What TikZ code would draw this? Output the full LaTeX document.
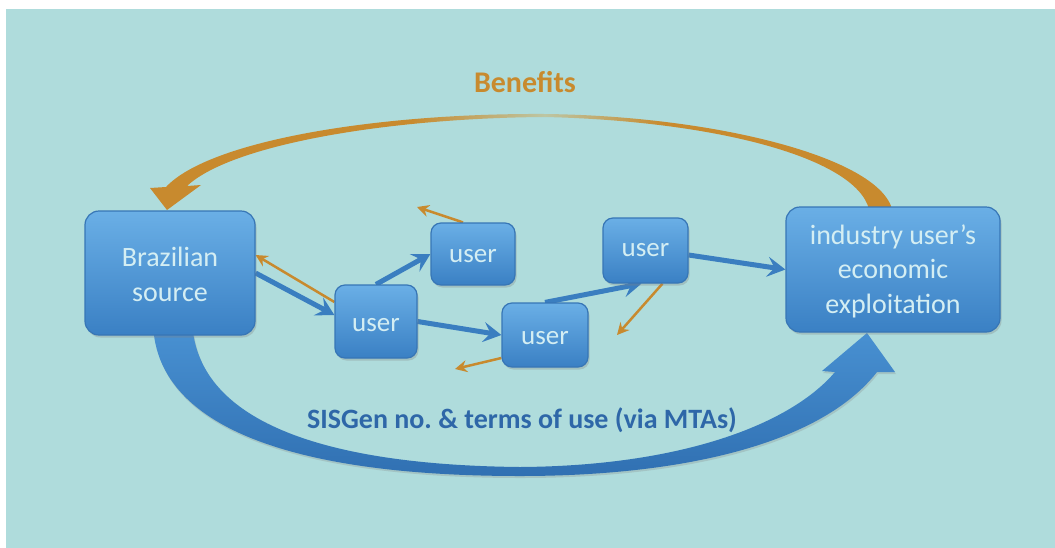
\documentclass[tikz,border=0pt]{standalone}
\usepackage{fontspec}
\setmainfont{Carlito}
\usetikzlibrary{arrows.meta,shadows,backgrounds}
\definecolor{bgteal}{HTML}{AFDCDC}
\definecolor{boxtop}{HTML}{6AAFE6}
\definecolor{boxbot}{HTML}{3A80C4}
\definecolor{boxline}{HTML}{3776B6}
\definecolor{boxtext}{HTML}{D4EEF3}
\definecolor{benc}{HTML}{C88A2E}
\definecolor{benfade}{HTML}{BCC6A4}
\definecolor{arrowblue}{HTML}{3A7EC0}
\definecolor{sistext}{HTML}{2E67A8}
\definecolor{bigtop}{HTML}{4A93D4}
\definecolor{bigbot}{HTML}{3070B2}
\pgfdeclarehorizontalshading{benL}{100bp}{color(0bp)=(benc); color(25bp)=(benc); color(58bp)=(benc); color(75bp)=(benfade); color(100bp)=(benfade)}
\pgfdeclarehorizontalshading{benR}{100bp}{color(0bp)=(benfade); color(25bp)=(benfade); color(42bp)=(benc); color(100bp)=(benc)}
\frenchspacing
\newcommand{\lowertext}[2]{\raisebox{-#1}[\height][\depth]{#2}}
\begin{document}
\begin{tikzpicture}[x=1pt,y=-1pt,
  boxbase/.style={draw=boxline, line width=1.2pt, top color=boxtop, bottom color=boxbot,
    text=boxtext, align=center, inner sep=0pt,
    drop shadow={shadow xshift=1.5pt, shadow yshift=-2.5pt, opacity=0.3}},
  bigbox/.style={boxbase, rounded corners=14pt, font=\fontsize{28}{34.5}\selectfont},
  userbox/.style={boxbase, rounded corners=10pt, font=\fontsize{27}{32}\selectfont},
  barrow/.style={draw=arrowblue, line width=5pt, -{Stealth[length=18pt,width=20pt,inset=7pt]}},
  oarrow/.style={draw=benc, line width=2.5pt, -{Stealth[length=12pt,width=12pt,inset=4pt]}},
]
\useasboundingbox (0,0) rectangle (1055,547);

% nodes
\node[bigbox, minimum width=170pt, minimum height=124pt] (src) at (170,273) {\lowertext{4pt}{\begin{tabular}{@{}c@{}}Brazilian\\source\end{tabular}}};
\node[bigbox, minimum width=214pt, minimum height=125pt] (ind) at (893,269.5) {\lowertext{2.5pt}{\begin{tabular}{@{}c@{}}industry user’s\\economic\\exploitation\end{tabular}}};
\node[userbox, minimum width=82pt, minimum height=73pt] (u1) at (376,321.5) {\lowertext{4pt}{user}};
\node[userbox, minimum width=84pt, minimum height=62pt] (u2) at (473,254) {\lowertext{2pt}{user}};
\node[userbox, minimum width=86pt, minimum height=64pt] (u3) at (545,335) {\lowertext{3pt}{user}};
\node[userbox, minimum width=85pt, minimum height=65pt] (u4) at (645.5,250.5) {user};

\node[font=\fontsize{30}{36}\selectfont\bfseries, text=benc, anchor=base] (ben) at (525,92) {Benefits};
\node[font=\fontsize{28}{34}\selectfont\bfseries, text=sistext, anchor=base] (sis) at (522,428) {SISGen no. \& terms of use (via MTAs)};

\coordinate (o2) at (417,207);
\coordinate (o3) at (455,369);
\coordinate (o4) at (617,335);

\begin{scope}[on background layer]
  \fill[white] (0,0) rectangle (1060,552);
  \fill[bgteal] (6,9) rectangle (1060,552);
  % benefits arrow (left half with head, right half)
  \shade[shading=benL] (545,114) .. controls (380,113) and (210,140) .. (166,187)
     -- (150,188) -- (167,210) -- (201,185) -- (187,186)
     .. controls (232,144) and (390,118) .. (545,117) -- cycle;
  \shade[shading=benR] (545,114) .. controls (720,116) and (890,160) .. (893,215)
     -- (870,215) .. controls (866,160) and (720,121) .. (545,117) -- cycle;
  % SISGen arrow
  \shade[top color=bigtop, bottom color=bigbot,
         drop shadow={shadow xshift=1pt, shadow yshift=-2pt, opacity=0.25}]
     (153,320) .. controls (153,430) and (300,476) .. (520,476)
     .. controls (680,476) and (820,445) .. (877,372)
     -- (895,372) -- (867,333) -- (822,371) -- (835,372)
     .. controls (790,425) and (680,466) .. (520,467)
     .. controls (320,465) and (195,420) .. (192,320) -- cycle;
  % small connectors
  \draw[barrow] (src.east) -- ([yshift=6.5pt]u1.west);
  \draw[oarrow] ([yshift=19.5pt]u1.west) -- ([yshift=18pt]src.east);
  \draw[barrow] (u1.north) -- (u2.west);
  \draw[oarrow] ([xshift=-10pt]u2.north) -- (o2);
  \draw[barrow] (u1.east) -- (u3.west);
  \draw[barrow] (u3.north) -- ([xshift=-4pt]u4.south);
  \draw[oarrow] ([yshift=-23pt]u3.west) -- (o3);
  \draw[oarrow] ([xshift=17pt]u4.south) -- (o4);
  \draw[barrow] ([yshift=-4.5pt]u4.east) -- (ind.west);
\end{scope}
\end{tikzpicture}
\end{document}
